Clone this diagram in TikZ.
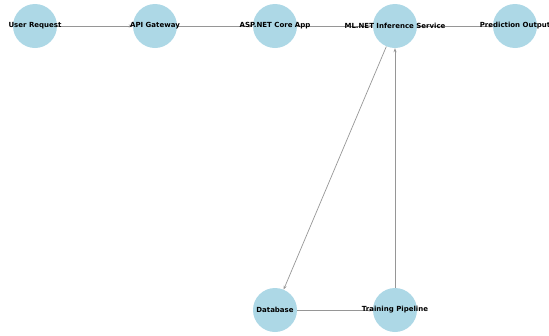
\documentclass[tikz,border=0pt]{standalone}
\usepackage{fontspec}
\setmainfont{DejaVu Sans}
\usetikzlibrary{arrows.meta,backgrounds}
\definecolor{nodeblue}{RGB}{173,216,230}
\definecolor{edgegray}{RGB}{150,150,150}
\begin{document}
\begin{tikzpicture}[x=1pt, y=-1pt,
    every node/.style={font=\fontsize{7}{8}\selectfont\bfseries},
    stage/.style={circle, fill=nodeblue, minimum size=44pt, inner sep=0pt},
    flow/.style={draw=edgegray, line width=0.7pt, -{Stealth[length=4pt, width=3pt]}}]
        \useasboundingbox (0,0) rectangle (549,335);

        % Request path (top row)
        \foreach \n/\x/\t in {user/35/User Request, gateway/155/API Gateway, aspnet/275/ASP.NET Core App, mlnet/395/ML.NET Inference Service, output/515/Prediction Output} {
            \node[stage, label=center:{\t}] (\n) at (\x,26) {};
        }

        % Data and training (bottom row)
        \node[stage, label=center:{Database}] (database) at (275,310) {};
        \node[stage, label=center:{Training Pipeline}] (training) at (395,310) {};

        % Connections
        \begin{scope}[on background layer]
            \foreach \a/\b in {user/gateway, gateway/aspnet, aspnet/mlnet, mlnet/output, mlnet/database, database/training, training/mlnet} {
                \draw[flow] (\a) -- (\b);
            }
        \end{scope}
    \end{tikzpicture}
\end{document}
